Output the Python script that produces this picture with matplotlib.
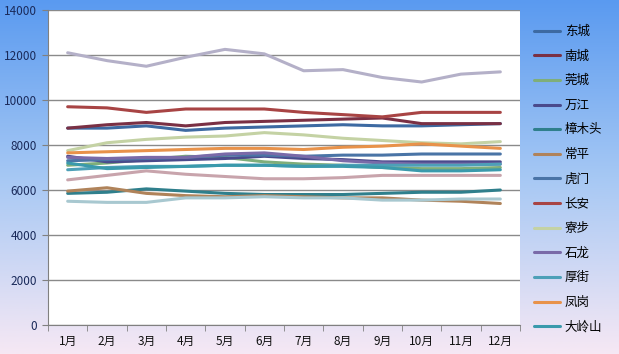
import numpy as np
import matplotlib
matplotlib.use('Agg')
import matplotlib.pyplot as plt
from matplotlib.colors import LinearSegmentedColormap

plt.rcParams['font.family'] = ['Noto Sans CJK SC', 'DejaVu Sans']

months = ['1月', '2月', '3月', '4月', '5月', '6月', '7月', '8月', '9月', '10月', '11月', '12月']

# labelled series (legend order)
dongcheng = [8750, 8750, 8850, 8650, 8750, 8800, 8850, 8900, 8850, 8850, 8900, 8950]
nancheng = [8750, 8900, 9000, 8850, 9000, 9050, 9100, 9150, 9200, 8950, 8950, 8950]
guancheng = [7100, 7200, 7350, 7500, 7450, 7250, 7150, 7100, 7000, 6950, 6950, 7000]
wanjiang = [7500, 7250, 7300, 7350, 7400, 7500, 7400, 7350, 7250, 7250, 7250, 7250]
zhangmutou = [5850, 5900, 6050, 5950, 5850, 5800, 5800, 5800, 5850, 5900, 5900, 6000]
changping = [5950, 6100, 5850, 5750, 5700, 5750, 5700, 5650, 5650, 5550, 5500, 5400]
humen = [7300, 7350, 7400, 7450, 7550, 7550, 7500, 7550, 7550, 7600, 7600, 7600]
changan = [9700, 9650, 9450, 9600, 9600, 9600, 9450, 9350, 9250, 9450, 9450, 9450]
liaobu = [7750, 8100, 8250, 8350, 8400, 8550, 8450, 8300, 8200, 8100, 8050, 8150]
shilong = [7450, 7400, 7450, 7450, 7600, 7650, 7500, 7300, 7200, 7150, 7150, 7150]
houjie = [6900, 7000, 7050, 7050, 7100, 7100, 7050, 7100, 7100, 7100, 7100, 7150]
fenggang = [7650, 7700, 7750, 7800, 7850, 7850, 7800, 7900, 7950, 8050, 7950, 7850]
dalingshan = [7200, 6950, 7000, 7050, 7100, 7100, 7050, 7050, 7000, 6850, 6850, 6900]

# series whose legend entries are cut off in the original
extra_grey = [12100, 11750, 11500, 11900, 12250, 12050, 11300, 11350, 11000, 10800, 11150, 11250]
extra_pink = [6450, 6650, 6850, 6700, 6600, 6500, 6500, 6550, 6650, 6650, 6650, 6650]
extra_lightblue = [5500, 5450, 5450, 5650, 5650, 5700, 5650, 5650, 5550, 5550, 5600, 5600]

labelled = [
    ('东城', dongcheng, '#3d6aa2'),
    ('南城', nancheng, '#7a3044'),
    ('莞城', guancheng, '#7fae7a'),
    ('万江', wanjiang, '#4a4a8c'),
    ('樟木头', zhangmutou, '#2f7f8c'),
    ('常平', changping, '#b0835a'),
    ('虎门', humen, '#4a74a6'),
    ('长安', changan, '#a84444'),
    ('寮步', liaobu, '#c4d2a4'),
    ('石龙', shilong, '#7a6aa8'),
    ('厚街', houjie, '#4da0b8'),
    ('凤岗', fenggang, '#e8924a'),
    ('大岭山', dalingshan, '#3a9aac'),
]
extras = [
    (extra_grey, '#b4b0c8'),
    (extra_pink, '#c8a4ac'),
    (extra_lightblue, '#a8c8d0'),
]

fig = plt.figure(figsize=(6.19, 3.54), dpi=100)

# gradient background
bg = fig.add_axes([0, 0, 1, 1], zorder=-1)
cmap = LinearSegmentedColormap.from_list('bg', ['#5a9af0', '#a6c8f4', '#f6e8f4'])
grad = np.linspace(0, 1, 256).reshape(-1, 1)
bg.imshow(grad, aspect='auto', cmap=cmap, extent=[0, 1, 0, 1])
bg.axis('off')

ax = fig.add_axes([48 / 619, 1 - 325 / 354, 472 / 619, 315 / 354])
ax.set_facecolor('white')
x = np.arange(len(months))

handles = []
for name, vals, col in labelled:
    h, = ax.plot(x, vals, color=col, linewidth=2.2, label=name, solid_capstyle='round')
    handles.append(h)
for vals, col in extras:
    ax.plot(x, vals, color=col, linewidth=2.2, solid_capstyle='round')

ax.set_xlim(-0.5, 11.5)
ax.set_ylim(0, 14000)
ax.set_yticks(range(0, 14001, 2000))
ax.yaxis.grid(True, color='#8a8a8a', linewidth=1)
ax.set_axisbelow(True)

ax.set_xticks(x)
ax.set_xticklabels(months)
ax.set_xticks(np.arange(-0.5, 12, 1), minor=True)
ax.tick_params(axis='x', which='major', length=0, pad=7, labelsize=8.5, colors='#101010')
ax.tick_params(axis='x', which='minor', length=4, color='#808080', direction='out')
ax.tick_params(axis='y', length=4, color='#808080', labelsize=8.5, labelcolor='#1a2a5a', pad=4)

for s in ['top', 'right']:
    ax.spines[s].set_visible(False)
ax.spines['left'].set_color('#808080')
ax.spines['bottom'].set_color('#808080')

fig.legend(handles=handles, loc='upper left', bbox_to_anchor=(534 / 619, 1 - 25 / 354),
           frameon=False, fontsize=9, labelspacing=0.93, handlelength=2.1,
           handletextpad=0.35, borderaxespad=0, borderpad=0)

fig.savefig('out.png', dpi=100)
